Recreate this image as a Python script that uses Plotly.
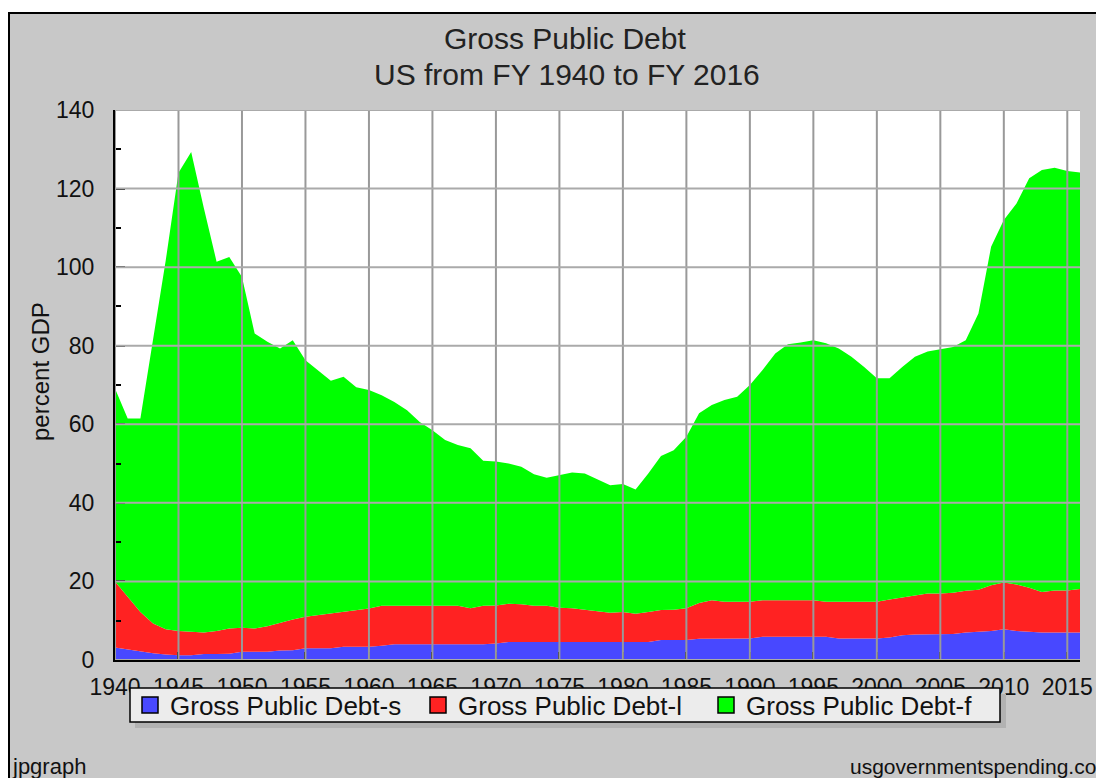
import plotly.graph_objects as go

years = list(range(1940, 2017))

debt_s = [3.2, 2.7, 2.1, 1.7, 1.4, 1.2, 1.2, 1.5, 1.5, 1.6,
          2.1, 2.1, 2.1, 2.4, 2.5, 3.0, 3.0, 3.0, 3.4, 3.4,
          3.4, 3.6, 4.0, 4.0, 4.0, 4.0, 4.0, 4.0, 4.0, 4.0,
          4.2, 4.6, 4.6, 4.6, 4.6, 4.6, 4.6, 4.6, 4.6, 4.6,
          4.6, 4.6, 4.6, 5.1, 5.1, 5.1, 5.4, 5.4, 5.4, 5.4,
          5.5, 5.9, 5.9, 5.9, 5.9, 5.9, 5.9, 5.5, 5.5, 5.5,
          5.5, 5.7, 6.3, 6.5, 6.5, 6.5, 6.6, 7.0, 7.2, 7.4,
          7.8, 7.4, 7.2, 7.0, 7.0, 7.0, 7.0]

debt_l = [16.8, 13.3, 10.1, 7.6, 6.4, 6.2, 6.0, 5.5, 5.9, 6.4,
          6.1, 5.9, 6.5, 7.1, 7.8, 8.0, 8.4, 8.8, 8.8, 9.3,
          9.7, 10.2, 9.8, 9.8, 9.8, 9.8, 9.8, 9.8, 9.2, 9.8,
          9.7, 9.7, 9.6, 9.2, 9.2, 8.7, 8.6, 8.2, 7.8, 7.4,
          7.6, 7.2, 7.6, 7.6, 7.7, 8.1, 9.1, 9.8, 9.4, 9.4,
          9.3, 9.3, 9.3, 9.3, 9.3, 9.3, 8.9, 9.3, 9.3, 9.3,
          9.3, 9.7, 9.6, 10.0, 10.4, 10.4, 10.5, 10.6, 10.7, 11.6,
          11.9, 11.8, 11.2, 10.3, 10.7, 10.7, 11.1]

debt_f = [49.1, 45.5, 49.3, 72.1, 94.0, 116.6, 122.1, 108.0, 94.0, 94.6,
          89.3, 75.1, 72.4, 69.8, 71.1, 65.3, 62.4, 59.3, 59.9, 56.7,
          55.6, 53.6, 51.9, 49.8, 46.8, 44.7, 42.2, 40.9, 40.7, 36.9,
          36.6, 35.7, 35.0, 33.5, 32.6, 33.8, 34.5, 34.7, 33.6, 32.5,
          32.6, 31.6, 35.3, 39.2, 40.6, 43.6, 48.3, 49.7, 51.4, 52.2,
          55.2, 58.6, 62.8, 65.2, 65.6, 66.2, 65.8, 64.5, 62.4, 59.8,
          56.9, 56.3, 58.7, 60.7, 61.6, 62.2, 62.6, 63.8, 70.3, 86.2,
          92.3, 97.0, 104.2, 107.4, 107.6, 106.8, 106.0]

series_names = ["Gross Public Debt-s", "Gross Public Debt-l", "Gross Public Debt-f"]
series_colors = ["#4848ff", "#ff2222", "#00ff00"]
x_ticks = list(range(1940, 2016, 5))
y_ticks = list(range(0, 141, 20))

# page body offsets the figure by 8px; screen coords below are reference pixels
OFF = 8
W, H = 1104, 778
L, R, T, B = 115, 1080, 110, 660  # plot area in screen pixels


def px(xp):
    return (xp - L) / (R - L)


def py(yp):
    return (B - yp) / (B - T)


fig = go.Figure()
for name, vals, col in zip(series_names, [debt_s, debt_l, debt_f], series_colors):
    fig.add_trace(go.Scatter(
        x=years, y=vals, stackgroup="one", mode="lines",
        line=dict(width=0, color=col), fillcolor=col,
        showlegend=False, hoverinfo="skip"))
# legend entries
for name, col in zip(series_names, series_colors):
    fig.add_trace(go.Scatter(
        x=[None], y=[None], mode="markers", name=name,
        marker=dict(symbol="square", size=17, color=col,
                    line=dict(color="black", width=1.5))))

font_family = "Liberation Sans, Arial, sans-serif"
shapes = []
# gridlines above the fills
for xv in x_ticks:
    shapes.append(dict(type="line", xref="x", yref="y", x0=xv, x1=xv, y0=0, y1=140,
                       line=dict(color="#999999", width=2), layer="above"))
for yv in y_ticks:
    shapes.append(dict(type="line", xref="x", yref="y", x0=1940, x1=2016, y0=yv, y1=yv,
                       line=dict(color="#aaaaaa", width=2), layer="above"))
# white strip above the frame and frame border
shapes.append(dict(type="rect", xref="paper", yref="paper", x0=px(-10), x1=px(1130),
                   y0=py(13), y1=py(-10), fillcolor="white", line=dict(width=0), layer="below"))
shapes.append(dict(type="line", xref="paper", yref="paper", x0=px(9), x1=px(9),
                   y0=py(13), y1=py(800), line=dict(color="black", width=2), layer="below"))
shapes.append(dict(type="line", xref="paper", yref="paper", x0=px(8), x1=px(1130),
                   y0=py(13), y1=py(13), line=dict(color="black", width=2), layer="below"))
# legend shadow + box (drawn over the x tick labels)
shapes.append(dict(type="rect", xref="paper", yref="paper", x0=px(135), x1=px(1006),
                   y0=py(728), y1=py(694), fillcolor="#b2b2b2", line=dict(width=0), layer="above"))
shapes.append(dict(type="rect", xref="paper", yref="paper", x0=px(130), x1=px(1000),
                   y0=py(722), y1=py(688), fillcolor="#ececec",
                   line=dict(color="black", width=1.5), layer="above"))

annotations = [
    dict(text="Gross Public Debt", x=px(565), y=py(38), xref="paper", yref="paper",
         showarrow=False, font=dict(size=30, color="#222222", family=font_family),
         xanchor="center", yanchor="middle"),
    dict(text="US from FY 1940 to FY 2016", x=px(567), y=py(75), xref="paper", yref="paper",
         showarrow=False, font=dict(size=30, color="#222222", family=font_family),
         xanchor="center", yanchor="middle"),
    dict(text="percent GDP", x=px(40), y=py(372), xref="paper", yref="paper",
         showarrow=False, textangle=-90, font=dict(size=24, color="#111111", family=font_family),
         xanchor="center", yanchor="middle"),
    dict(text="jpgraph", x=px(10), y=py(766), xref="paper", yref="paper",
         showarrow=False, font=dict(size=22, color="#111111", family=font_family),
         xanchor="left", yanchor="middle"),
    dict(text="usgovernmentspending.com", x=px(848), y=py(766), xref="paper", yref="paper",
         showarrow=False, font=dict(size=21, color="#111111", family=font_family),
         xanchor="left", yanchor="middle"),
]

fig.update_layout(
    width=W, height=H,
    margin=dict(l=L - OFF, r=W - (R - OFF), t=T - OFF, b=H - (B - OFF), pad=0),
    paper_bgcolor="#c8c8c8", plot_bgcolor="white",
    font=dict(family=font_family, color="#111111"),
    shapes=shapes, annotations=annotations,
    showlegend=True,
    legend=dict(orientation="h", x=px(130), y=py(705), xanchor="left", yanchor="middle",
                bgcolor="rgba(0,0,0,0)", borderwidth=0, traceorder="normal",
                font=dict(size=26, color="#111111", family=font_family),
                itemsizing="trace", entrywidth=243, entrywidthmode="pixels"),
    xaxis=dict(range=[1940, 2016], tickvals=x_ticks, ticktext=[str(v) for v in x_ticks],
               showgrid=False, zeroline=False, showline=True, linecolor="black", linewidth=2,
               ticks="inside", ticklen=8, tickwidth=2, tickcolor="black",
               tickfont=dict(size=23, color="#111111"), ticklabelstandoff=5,
               layer="above traces", fixedrange=True),
    yaxis=dict(range=[0, 140], tickvals=y_ticks, showgrid=False, zeroline=False,
               showline=True, linecolor="black", linewidth=2,
               ticks="inside", ticklen=10, tickwidth=2, tickcolor="black",
               minor=dict(tickvals=list(range(10, 140, 20)), ticks="inside", ticklen=6,
                          tickwidth=2, tickcolor="black", showgrid=False),
               tickfont=dict(size=23, color="#111111"), ticklabelstandoff=14,
               layer="above traces", fixedrange=True),
)

fig.write_html("out.html")
